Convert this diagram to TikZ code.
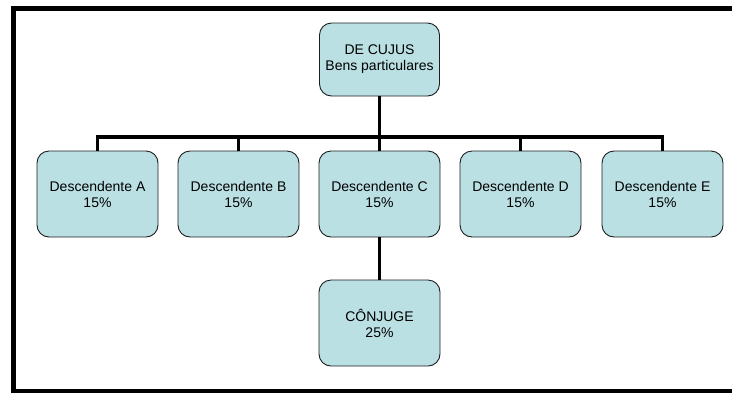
\documentclass[tikz,border=0pt]{standalone}
\usepackage{fontspec}
\setmainfont{Liberation Sans}
\definecolor{boxfill}{RGB}{186,224,228}
\definecolor{boxline}{RGB}{30,30,30}
\begin{document}
\begin{tikzpicture}[x=1bp,y=-1bp,
  heir/.style={draw=boxline, line width=0.9bp, fill=boxfill, rounded corners=12bp,
    minimum width=121bp, minimum height=86bp, align=center, inner sep=2bp,
    font=\fontsize{14bp}{16bp}\selectfont},
  root/.style={heir, minimum height=73bp, minimum width=120bp},
  conn/.style={line width=3.6bp, black},
  frame/.style={line width=5bp, black}]
\useasboundingbox (0,0) rectangle (732,392);
\fill[white] (0,0) rectangle (732,392);

% outer frame, open on the right
\draw[frame] (732,8.5) -- (13.5,8.5) -- (13.5,391.5) -- (732,391.5);

% nodes
\node[root] (top) at (379.5,59.5) {DE CUJUS\\Bens particulares};
\node[heir] (a) at (97.5,194)  {Descendente A\\15\%};
\node[heir] (b) at (238.5,194) {Descendente B\\15\%};
\node[heir] (c) at (379.5,194) {Descendente C\\15\%};
\node[heir] (d) at (520.5,194) {Descendente D\\15\%};
\node[heir] (e) at (662.5,194) {Descendente E\\15\%};
\node[heir] (s) at (379.5,323) {CÔNJUGE\\25\%};

% connectors
\coordinate (bus) at (379.5,137);
\draw[conn] (top.south) -- (bus);
\draw[conn] (a.north) |- (bus) -| (e.north);
\draw[conn] (b.north) -- (b.north |- bus);
\draw[conn] (c.north) -- (bus);
\draw[conn] (d.north) -- (d.north |- bus);
\draw[conn] (c.south) -- (s.north);
\end{tikzpicture}
\end{document}
